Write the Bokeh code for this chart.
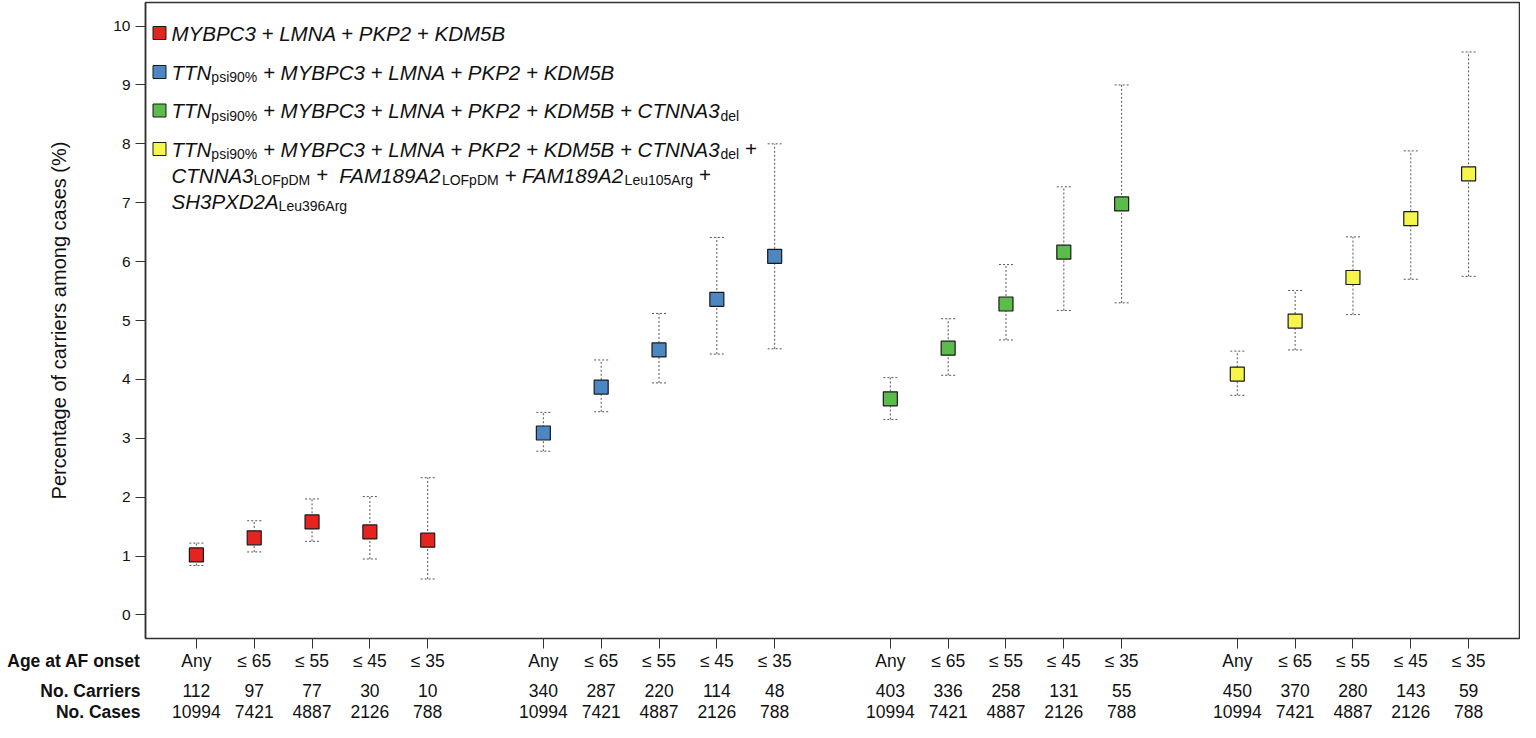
from bokeh.plotting import figure
from bokeh.layouts import column
from bokeh.models import (Range1d, FixedTicker, Label, BoxAnnotation,
                          Whisker, TeeHead, ColumnDataSource)
from bokeh.core.properties import value
from bokeh.embed import file_html
from bokeh.resources import INLINE

# ---------------- data ----------------
age_labels = ["Any", "≤ 65", "≤ 55", "≤ 45", "≤ 35"]
n_cases = [10994, 7421, 4887, 2126, 788]
row_headers = ["Age at AF onset", "No. Carriers", "No. Cases"]

colors = ["#E5231F", "#4C86C3", "#5BBB4B", "#F6F64A"]

carriers_red = [112, 97, 77, 30, 10]
carriers_blue = [340, 287, 220, 114, 48]
carriers_green = [403, 336, 258, 131, 55]
carriers_yellow = [450, 370, 280, 143, 59]

pct_red = [1.02, 1.31, 1.58, 1.41, 1.27]
lo_red = [0.84, 1.07, 1.25, 0.95, 0.61]
hi_red = [1.22, 1.60, 1.97, 2.01, 2.33]

pct_blue = [3.09, 3.87, 4.50, 5.36, 6.09]
lo_blue = [2.78, 3.45, 3.94, 4.43, 4.52]
hi_blue = [3.44, 4.33, 5.12, 6.41, 8.00]

pct_green = [3.67, 4.53, 5.28, 6.16, 6.98]
lo_green = [3.32, 4.07, 4.67, 5.17, 5.30]
hi_green = [4.03, 5.03, 5.95, 7.27, 9.00]

pct_yellow = [4.09, 4.99, 5.73, 6.73, 7.49]
lo_yellow = [3.73, 4.50, 5.10, 5.70, 5.75]
hi_yellow = [4.48, 5.51, 6.42, 7.88, 9.56]

y_ticks = [0, 1, 2, 3, 4, 5, 6, 7, 8, 9, 10]

# legend entries: list of lines, each line a list of (text, is_subscript)
legend_red = [[("MYBPC3 + LMNA + PKP2 + KDM5B", 0)]]
legend_blue = [[("TTN", 0), ("psi90%", 1), (" + MYBPC3 + LMNA + PKP2 + KDM5B", 0)]]
legend_green = [[("TTN", 0), ("psi90%", 1), (" + MYBPC3 + LMNA + PKP2 + KDM5B + CTNNA3", 0), ("del", 1)]]
legend_yellow = [
    [("TTN", 0), ("psi90%", 1), (" + MYBPC3 + LMNA + PKP2 + KDM5B + CTNNA3", 0), ("del", 1), (" +", 0)],
    [("CTNNA3", 0), ("LOFpDM", 1), (" +", 0), ("  FAM189A2", 0), ("LOFpDM", 1), (" + FAM189A2", 0),
     ("Leu105Arg", 1), (" +", 0)],
    [("SH3PXD2A", 0), ("Leu396Arg", 1)],
]

series = [
    (carriers_red, pct_red, lo_red, hi_red, legend_red),
    (carriers_blue, pct_blue, lo_blue, hi_blue, legend_blue),
    (carriers_green, pct_green, lo_green, hi_green, legend_green),
    (carriers_yellow, pct_yellow, lo_yellow, hi_yellow, legend_yellow),
]

# ---------------- layout constants ----------------
W = 1520
H1, H2 = 650, 72
B_LEFT, B_RIGHT, B_TOP, B_BOTTOM = 145, 1, 2, 12
FRAME_H = H1 - B_TOP - B_BOTTOM
X0, X1 = 0.12, 23.88
SANS = "Liberation Sans"
DARK = "#333333"
TXT = "#111111"

p = figure(width=W, height=H1, x_range=Range1d(X0, X1), y_range=Range1d(-0.4, 10.4),
           output_backend="svg", toolbar_location=None,
           min_border_left=B_LEFT, min_border_right=B_RIGHT,
           min_border_top=B_TOP, min_border_bottom=B_BOTTOM)
p.xgrid.visible = False
p.ygrid.visible = False
p.outline_line_color = DARK
p.outline_line_width = 1.5
p.background_fill_color = "white"
p.border_fill_color = "white"

# ---------------- y axis ----------------
p.yaxis.ticker = FixedTicker(ticks=y_ticks)
p.yaxis.major_label_text_font = SANS
p.yaxis.major_label_text_font_size = "15.5px"
p.yaxis.major_label_text_color = TXT
p.yaxis.major_tick_out = 10
p.yaxis.major_tick_in = 0
p.yaxis.minor_tick_out = 0
p.yaxis.minor_tick_in = 0
p.yaxis.major_tick_line_color = DARK
p.yaxis.axis_line_color = DARK
p.yaxis.axis_line_width = 1.5
p.yaxis.major_label_standoff = 5
p.yaxis.axis_label = "Percentage of carriers among cases (%)"
p.yaxis.axis_label_text_font = SANS
p.yaxis.axis_label_text_font_style = "normal"
p.yaxis.axis_label_text_font_size = "20px"
p.yaxis.axis_label_text_color = TXT
p.yaxis.axis_label_standoff = 40

# ---------------- x positions ----------------
all_x = []
for g in range(len(series)):
    for j in range(len(age_labels)):
        all_x.append(g * 6 + j + 1)

ax1 = p.xaxis[0]
ax1.ticker = FixedTicker(ticks=all_x)
ax1.major_label_overrides = {xv: "" for xv in all_x}
ax1.major_label_text_font_size = "0px"
ax1.axis_line_color = None
ax1.major_tick_out = 10
ax1.major_tick_in = 0
ax1.minor_tick_out = 0
ax1.minor_tick_in = 0
ax1.major_tick_line_color = DARK
ax1.major_label_standoff = 0

# ---------------- error bars and points ----------------
for g, (carr, pct, lo, hi, leg) in enumerate(series):
    xs = [g * 6 + j + 1 for j in range(len(pct))]
    src = ColumnDataSource(dict(x=xs, y=pct, lower=lo, upper=hi))
    wk = Whisker(source=src, base="x", lower="lower", upper="upper", dimension="height",
                 line_color="#555555", line_dash="2 2", line_width=1,
                 upper_head=TeeHead(size=14, line_color="#555555", line_dash="2 2", line_width=1),
                 lower_head=TeeHead(size=14, line_color="#555555", line_dash="2 2", line_width=1))
    p.add_layout(wk)
    p.scatter("x", "y", source=src, marker="square", size=14,
              fill_color=colors[g], line_color="#1a1a1a", line_width=1.2)

# ---------------- legend (rich text built from pieces) ----------------
CW = {' ': 278, '%': 889, '+': 584, 'A': 667, 'B': 667, 'C': 722, 'D': 722, 'E': 667,
      'F': 611, 'G': 778, 'H': 722, 'I': 278, 'K': 667, 'L': 556, 'M': 833, 'N': 722,
      'O': 778, 'P': 667, 'R': 722, 'S': 667, 'T': 611, 'X': 667, 'Y': 667,
      'a': 556, 'd': 556, 'e': 556, 'f': 278, 'g': 556, 'i': 222, 'l': 222, 'o': 556,
      'p': 556, 'r': 333, 's': 500, 'u': 556}
for d in "0123456789":
    CW[d] = 556


def text_w(s, size):
    return sum(CW.get(c, 556) for c in s) * size / 1000.0


MAIN_SIZE, SUB_SIZE = 20.5, 14
TEXT_X0 = 26
row_tops = [30.5, 69.5, 108, 146.5]
LINE_GAP = 26
SUB_DROP = 5

for g, (carr, pct, lo, hi, leg) in enumerate(series):
    yc = row_tops[g]
    p.add_layout(BoxAnnotation(left=7.5, right=20.5, top=FRAME_H - (yc - 6.5), bottom=FRAME_H - (yc + 6.5),
                               left_units="screen", right_units="screen",
                               top_units="screen", bottom_units="screen",
                               fill_color=colors[g], fill_alpha=1.0,
                               line_color="#1a1a1a", line_width=1, line_alpha=1.0))
    for li, line in enumerate(leg):
        ly = yc + li * LINE_GAP
        cursor = TEXT_X0
        for txt, is_sub in line:
            size = SUB_SIZE if is_sub else MAIN_SIZE
            lead = len(txt) - len(txt.lstrip(' '))
            start = cursor + text_w(txt[:lead], size)
            cy = ly + (SUB_DROP if is_sub else 0)
            p.add_layout(Label(x=start, y=FRAME_H - cy, x_units="screen", y_units="screen",
                               text=txt.strip(' '), text_align="left", text_baseline="middle",
                               text_font=SANS, text_font_style="normal" if is_sub else "italic",
                               text_font_size=f"{size}px", text_color=TXT))
            cursor += text_w(txt, size)

# ---------------- table below the plot (shares the x scale) ----------------
ROW_Y = [10, 40, 61]
TABLE_SIZE = "17.5px"

t = figure(width=W, height=H2, x_range=p.x_range, y_range=Range1d(H2, 0),
           output_backend="svg", toolbar_location=None,
           min_border_left=B_LEFT, min_border_right=B_RIGHT, min_border_top=0, min_border_bottom=0)
t.xaxis.visible = False
t.xgrid.visible = False
t.ygrid.visible = False
t.outline_line_color = None
t.background_fill_color = "white"
t.border_fill_color = "white"

# row headers as the table's own left-axis labels
t.yaxis.ticker = FixedTicker(ticks=ROW_Y)
t.yaxis.major_label_overrides = {ROW_Y[r]: row_headers[r] for r in range(len(row_headers))}
t.yaxis.axis_line_color = None
t.yaxis.major_tick_line_color = None
t.yaxis.major_tick_out = 0
t.yaxis.major_tick_in = 0
t.yaxis.minor_tick_out = 0
t.yaxis.minor_tick_in = 0
t.yaxis.major_label_standoff = 5
t.yaxis.major_label_text_font = SANS
t.yaxis.major_label_text_font_style = "bold"
t.yaxis.major_label_text_font_size = TABLE_SIZE
t.yaxis.major_label_text_color = TXT

for g, (carr, pct, lo, hi, leg) in enumerate(series):
    xs = [g * 6 + j + 1 for j in range(len(age_labels))]
    rows = [age_labels, [str(c) for c in carr], [str(n) for n in n_cases]]
    for r, labels in enumerate(rows):
        t.text(x=xs, y=[ROW_Y[r]] * len(xs), text=labels, text_align="center",
               text_baseline="middle", text_font=value(SANS), text_font_size=TABLE_SIZE,
               text_color=TXT)

layout = column(p, t, spacing=0)
open("out.html", "w").write(file_html(layout, INLINE))
